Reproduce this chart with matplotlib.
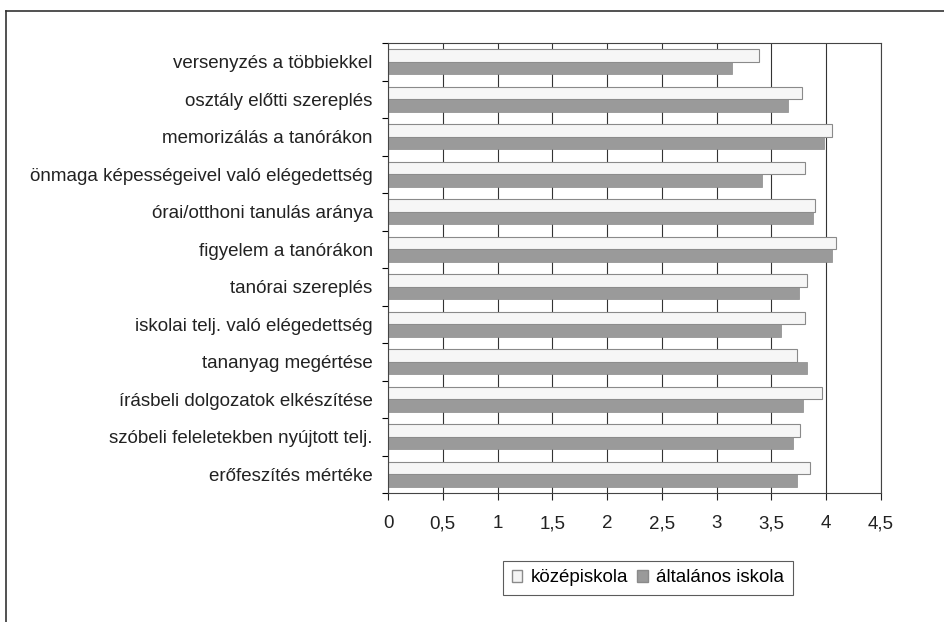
import matplotlib
matplotlib.use("Agg")
import matplotlib.pyplot as plt
from matplotlib.lines import Line2D
from matplotlib.patches import Patch
import numpy as np

plt.rcParams['font.family'] = ['Liberation Sans', 'DejaVu Sans']

categories = [
    "versenyzés a többiekkel",
    "osztály előtti szereplés",
    "memorizálás a tanórákon",
    "önmaga képességeivel való elégedettség",
    "órai/otthoni tanulás aránya",
    "figyelem a tanórákon",
    "tanórai szereplés",
    "iskolai telj. való elégedettség",
    "tananyag megértése",
    "írásbeli dolgozatok elkészítése",
    "szóbeli feleletekben nyújtott telj.",
    "erőfeszítés mértéke",
]
kozepiskola = [3.39, 3.78, 4.05, 3.81, 3.90, 4.09, 3.82, 3.81, 3.73, 3.96, 3.76, 3.85]
altalanos = [3.14, 3.65, 3.98, 3.41, 3.88, 4.05, 3.75, 3.59, 3.82, 3.79, 3.70, 3.73]
series_names = ["középiskola", "általános iskola"]
xticks = [0, 0.5, 1, 1.5, 2, 2.5, 3, 3.5, 4, 4.5]
xticklabels = ["0", "0,5", "1", "1,5", "2", "2,5", "3", "3,5", "4", "4,5"]

fig = plt.figure(figsize=(9.44, 6.22), dpi=100)
ax = fig.add_axes([388/944, 1-493/622, (881-388)/944, (493-43)/622])

y = np.arange(len(categories))
h = 0.33
ax.barh(y - h/2, kozepiskola, height=h, color="#f6f6f6", edgecolor="#8a8a8a", linewidth=0.8, zorder=2)
ax.barh(y + h/2, altalanos, height=h, color="#9a9a9a", edgecolor="#8a8a8a", linewidth=0.5, zorder=2)

ax.set_xlim(0, 4.5)
ax.set_ylim(len(categories) - 0.5, -0.5)
ax.set_xticks(xticks)
ax.set_xticklabels(xticklabels, fontsize=13.5)
ax.xaxis.grid(True, color="#333333", linewidth=0.8, zorder=0)
ax.set_axisbelow(True)
ax.tick_params(axis='x', direction='out', length=5, width=0.8, pad=11, colors="#222222")

ax.set_yticks(np.arange(len(categories) + 1) - 0.5)
ax.set_yticklabels([])
ax.set_yticks(y, minor=True)
ax.set_yticklabels(categories, minor=True, fontsize=13.5)
ax.tick_params(axis='y', which='major', direction='out', length=4, width=0.8)
ax.tick_params(axis='y', which='minor', length=0, pad=11, colors="#222222")

for s in ax.spines.values():
    s.set_color("#444444")
    s.set_linewidth(0.8)

handles = [Patch(facecolor="#f4f4f4", edgecolor="#8a8a8a", label=series_names[0]),
           Patch(facecolor="#9a9a9a", edgecolor="#8a8a8a", label=series_names[1])]
leg = fig.legend(handles=handles, loc="center", bbox_to_anchor=(648/944, 1-578/622),
                 ncol=2, frameon=True, fancybox=False, fontsize=13.5,
                 handlelength=0.55, handleheight=0.55, handletextpad=0.45, columnspacing=0.5,
                 borderpad=0.45)
leg.get_frame().set_edgecolor("#333333")
leg.get_frame().set_linewidth(0.8)

# outer frame
fig.add_artist(Line2D([6/944, 1], [1-11/622, 1-11/622], color="#333333", linewidth=1.2, transform=fig.transFigure))
fig.add_artist(Line2D([6/944, 6/944], [0, 1-11/622], color="#333333", linewidth=1.2, transform=fig.transFigure))

fig.savefig("out.png", dpi=100)
